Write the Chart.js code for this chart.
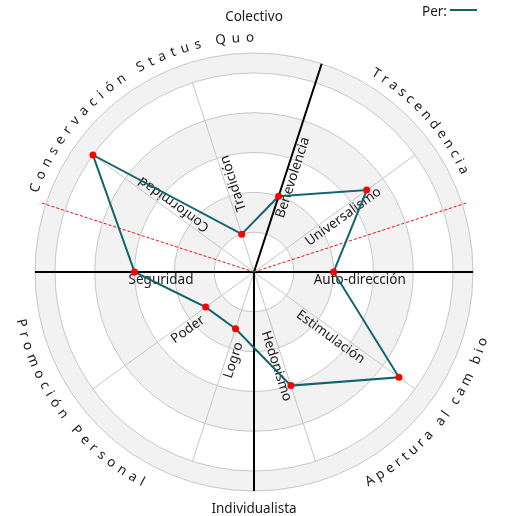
<!DOCTYPE html>
<html>
<head>
<meta charset="utf-8">
<title>Valores</title>
<style>
  html, body { margin: 0; padding: 0; background: #fff; }
  #wrap { width: 505px; height: 516px; }
</style>
</head>
<body>
<div id="wrap"><canvas id="valuesChart"></canvas></div>
<script src="https://cdn.jsdelivr.net/npm/chart.js@4.4.1/dist/chart.umd.min.js"></script>
<script>
// values, clockwise starting at the spoke 18 degrees right of the top
const categories = ['Benevolencia', 'Universalismo', 'Auto-dirección', 'Estimulación', 'Hedonismo',
  'Logro', 'Poder', 'Seguridad', 'Conformidad', 'Tradición'];
const perValues = [2, 3.5, 2, 4.5, 3, 1.5, 1.5, 3, 5, 1];
const ringTicks = [1, 2, 3, 4, 5, 5.5];
const groupLabels = ['Conservación Status Quo', 'Trascendencia', 'Promoción Personal', 'Apertura al cam bio'];
const topLabel = 'Colectivo';
const bottomLabel = 'Individualista';
const seriesName = 'Per:';

// layout of the texts (kept apart from the data)
const labelLayout = [
  { dir: 'out', at: 1.5 }, { dir: 'out', at: 1.5 }, { dir: 'out', at: 1.5 }, { dir: 'out', at: 1.5 },
  { dir: 'out', at: 1.5 }, { dir: 'in', at: 1.8 }, { dir: 'in', at: 1.72 }, { dir: 'in', at: 1.52 },
  { dir: 'out', at: 1.58 }, { dir: 'out', at: 1.55 },
];
const groupLayout = [
  { from: 291, to: 359, at: 5.88, inward: false },
  { from: 31.6, to: 64, at: 5.85, inward: false },
  { from: 257.6, to: 208, at: 5.98, inward: true },
  { from: 151, to: 107, at: 6.0, inward: true },
];
const FONT = '13.5px "Noto Sans", sans-serif';
const INK = '#1a1a1a';

const toRad = (deg) => (deg * Math.PI) / 180;

function pointAt(scale, deg, value) {
  const r = scale.getDistanceFromCenterForValue(value);
  const a = toRad(deg);
  return { x: scale.xCenter + Math.sin(a) * r, y: scale.yCenter - Math.cos(a) * r };
}

function line(ctx, a, b) {
  ctx.beginPath();
  ctx.moveTo(a.x, a.y);
  ctx.lineTo(b.x, b.y);
  ctx.stroke();
}

function drawArcText(ctx, scale, text, lay) {
  const chars = [...text];
  const widths = chars.map((c) => ctx.measureText(c).width);
  const radius = scale.getDistanceFromCenterForValue(lay.at);
  const span = Math.abs(toRad(lay.to - lay.from)) * radius;
  const inner = widths.reduce((s, w) => s + w, 0) - widths[0] / 2 - widths[widths.length - 1] / 2;
  const gap = (span - inner) / (chars.length - 1);
  const sign = lay.to > lay.from ? 1 : -1;
  let pos = 0;
  chars.forEach((c, i) => {
    if (i > 0) pos += widths[i - 1] / 2 + gap + widths[i] / 2;
    const a = toRad(lay.from) + (sign * pos) / radius;
    ctx.save();
    ctx.translate(scale.xCenter + Math.sin(a) * radius, scale.yCenter - Math.cos(a) * radius);
    ctx.rotate(lay.inward ? a - Math.PI : a);
    ctx.fillText(c, 0, 0);
    ctx.restore();
  });
}

const decorPlugin = {
  id: 'decor',
  beforeDraw(chart) {
    const { ctx } = chart;
    const scale = chart.scales.r;
    ctx.save();
    ctx.fillStyle = '#f2f2f2';
    [[1, 2], [3, 4], [5, 5.5]].forEach(([a, b]) => {
      ctx.beginPath();
      ctx.arc(scale.xCenter, scale.yCenter, scale.getDistanceFromCenterForValue(b), 0, Math.PI * 2);
      ctx.arc(scale.xCenter, scale.yCenter, scale.getDistanceFromCenterForValue(a), 0, Math.PI * 2, true);
      ctx.fill();
    });
    ctx.restore();
  },
  beforeDatasetsDraw(chart) {
    const { ctx } = chart;
    const scale = chart.scales.r;
    const center = { x: scale.xCenter, y: scale.yCenter };
    ctx.save();

    // spokes
    ctx.strokeStyle = '#c6c6c6';
    ctx.lineWidth = 1;
    categories.forEach((_, i) => line(ctx, center, scale.getPointPositionForValue(i, 5)));

    // value names along the spokes
    ctx.font = FONT;
    ctx.fillStyle = INK;
    ctx.textBaseline = 'top';
    categories.forEach((name, i) => {
      const lay = labelLayout[i];
      const p = scale.getPointPositionForValue(i, lay.at);
      const theta = scale.getIndexAngle(i);
      ctx.save();
      ctx.translate(p.x, p.y);
      if (lay.dir === 'out') {
        ctx.rotate(theta - Math.PI / 2);
        ctx.textAlign = 'left';
      } else {
        ctx.rotate(theta + Math.PI / 2);
        ctx.textAlign = 'right';
      }
      ctx.fillText(name, 0, 1);
      ctx.restore();
    });

    // black axes
    ctx.strokeStyle = '#000';
    ctx.lineWidth = 2;
    line(ctx, pointAt(scale, 270, 5.5), pointAt(scale, 90, 5.5));
    line(ctx, center, pointAt(scale, 180, 5.5));
    line(ctx, center, pointAt(scale, 18, 5.5));

    // red dashed dividers
    ctx.strokeStyle = '#ff0000';
    ctx.lineWidth = 1;
    ctx.setLineDash([3, 2]);
    line(ctx, center, pointAt(scale, 72, 5.6));
    line(ctx, center, pointAt(scale, 288, 5.6));
    ctx.restore();
  },
  afterDraw(chart) {
    const { ctx } = chart;
    const scale = chart.scales.r;
    ctx.save();
    ctx.font = FONT;
    ctx.fillStyle = INK;
    ctx.textAlign = 'center';
    ctx.textBaseline = 'middle';
    groupLabels.forEach((text, i) => drawArcText(ctx, scale, text, groupLayout[i]));

    ctx.textBaseline = 'alphabetic';
    ctx.fillText(topLabel, scale.xCenter, 21);
    ctx.fillText(bottomLabel, scale.xCenter, 513);

    ctx.textAlign = 'left';
    ctx.fillText(seriesName, 422, 16);
    ctx.strokeStyle = chart.data.datasets[0].borderColor;
    ctx.lineWidth = 2;
    line(ctx, { x: 450, y: 10 }, { x: 477, y: 10 });
    ctx.restore();
  },
};

new Chart(document.getElementById('valuesChart'), {
  type: 'radar',
  data: {
    labels: categories,
    datasets: [
      {
        label: seriesName,
        data: perValues,
        borderColor: '#10646e',
        borderWidth: 2,
        fill: false,
        pointRadius: 3.5,
        pointBorderWidth: 0,
        pointBackgroundColor: '#ff0000',
      },
    ],
  },
  options: {
    responsive: true,
    maintainAspectRatio: false,
    animation: false,
    layout: { padding: { left: 35, right: 32, top: 53, bottom: 25 } },
    plugins: {
      legend: { display: false },
      tooltip: { enabled: false },
    },
    scales: {
      r: {
        min: 0,
        max: 5.5,
        startAngle: 18,
        afterBuildTicks: (scale) => {
          scale.ticks = [0, ...ringTicks].map((value) => ({ value }));
        },
        ticks: { display: false },
        grid: { circular: true, color: '#c6c6c6', lineWidth: 1 },
        angleLines: { display: false },
        pointLabels: { display: false },
      },
    },
  },
  plugins: [decorPlugin],
});
</script>
</body>
</html>
